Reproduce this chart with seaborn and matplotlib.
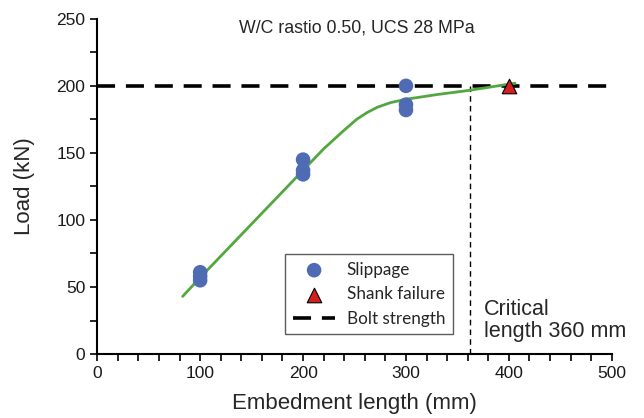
import numpy as np
import pandas as pd
import matplotlib
matplotlib.use("Agg")
import matplotlib.pyplot as plt
from matplotlib.ticker import MultipleLocator
import seaborn as sns

# test data
slip_len = [100, 100, 100, 200, 200, 200, 300, 300, 300]
slip_load = [61, 58, 55, 145, 137, 134, 200, 186, 182]
shank_len = [400]
shank_load = [200]
fit_len = [83, 100, 150, 200, 220, 240, 252, 262, 272, 285, 300, 330, 360, 406]
fit_load = [43, 57, 97, 137, 153, 167, 175, 180, 184, 187.5, 190, 193.5, 196.5, 202]
bolt_strength = 200
critical_length = 362

sns.set_style("ticks")
plt.rcParams['font.family'] = ['Liberation Sans', 'DejaVu Sans']

fig = plt.figure(figsize=(6.44, 4.18), dpi=100)
ax = fig.add_axes([0.151, 0.153, 0.799, 0.802])

ax.axhline(bolt_strength, color="black", lw=2.6, ls=(0, (5, 3)), zorder=1,
           label="Bolt strength")
ax.plot([critical_length, critical_length], [0, bolt_strength], color="black",
        lw=1, ls=(0, (4, 3)), zorder=1)

fit = pd.DataFrame({"x": fit_len, "y": fit_load})
sns.lineplot(data=fit, x="x", y="y", sort=False, color="#52a83f", lw=2,
             ax=ax, zorder=2)

slip = pd.DataFrame({"x": slip_len, "y": slip_load})
sns.scatterplot(data=slip, x="x", y="y", color="#4f6bb3", s=110,
                edgecolor="none", ax=ax, zorder=3, label="Slippage")
shank = pd.DataFrame({"x": shank_len, "y": shank_load})
sns.scatterplot(data=shank, x="x", y="y", marker="^", color="#d41f1f", s=110,
                edgecolor="black", linewidth=0.8, ax=ax, zorder=4,
                label="Shank failure")

ax.set_xlim(0, 500)
ax.set_ylim(0, 250)
ax.xaxis.set_major_locator(MultipleLocator(100))
ax.xaxis.set_minor_locator(MultipleLocator(20))
ax.yaxis.set_major_locator(MultipleLocator(50))
ax.yaxis.set_minor_locator(MultipleLocator(25))
ax.tick_params(which="both", direction="out", length=5, width=1.2,
               labelsize=12.5, color="black", labelcolor="#1a1a1a")
for s in ["left", "bottom"]:
    ax.spines[s].set_linewidth(1.5)
    ax.spines[s].set_color("black")
sns.despine(ax=ax)

ax.set_xlabel("Embedment length (mm)", fontsize=16, labelpad=9)
ax.set_ylabel("Load (kN)", fontsize=16, labelpad=15)

ax.text(252, 243, "W/C rastio 0.50, UCS 28 MPa", ha="center", va="center",
        fontsize=12.8)
ax.text(376, 25, "Critical\nlength 360 mm", ha="left", va="center",
        fontsize=15.5, linespacing=1.05)

h, l = ax.get_legend_handles_labels()
order = [l.index("Slippage"), l.index("Shank failure"), l.index("Bolt strength")]
leg = ax.legend([h[i] for i in order], [l[i] for i in order],
                loc="upper left", bbox_to_anchor=(0.365, 0.2985),
                borderaxespad=0, frameon=True, fancybox=False,
                edgecolor="#333333", prop={"family": "Lato", "size": 12.3},
                handlelength=2.5, borderpad=0.45, labelspacing=0.5,
                handletextpad=0.65)
leg.get_frame().set_linewidth(1.0)

fig.savefig("out.png", dpi=100)
